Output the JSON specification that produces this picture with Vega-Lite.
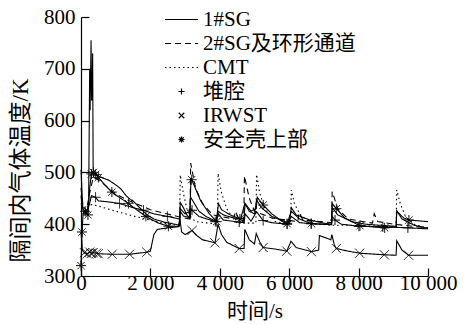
{
  "$schema": "https://vega.github.io/schema/vega-lite/v6.json",
  "width": 347,
  "height": 259,
  "autosize": {"type": "none"},
  "padding": {"left": 81, "top": 17, "right": 41, "bottom": 48},
  "background": "white",
  "config": {
    "view": {"stroke": null},
    "font": "Liberation Serif",
    "axis": {
      "domainColor": "black", "domainWidth": 1.2,
      "tickColor": "black", "tickWidth": 1.2, "tickSize": -8,
      "grid": false,
      "labelFont": "Liberation Serif", "labelFontSize": 21, "labelColor": "black",
      "titleFont": "Liberation Serif, Noto Sans CJK SC", "titleFontSize": 21,
      "titleFontWeight": "normal", "titleColor": "black"
    },
    "legend": {
      "symbolSize": 121, "symbolStrokeWidth": 1.2, "symbolStrokeColor": "black",
      "symbolFillColor": "transparent", "labelFont": "Liberation Serif, Noto Sans CJK SC",
      "labelFontSize": 21, "labelColor": "black", "labelOffset": 11, "rowPadding": 2,
      "padding": 0, "labelLimit": 300
    }
  },
  "datasets": {
    "lines": [
      {"series":"1#SG","t":0,"T":505},{"series":"1#SG","t":30,"T":460},{"series":"1#SG","t":60,"T":425},{"series":"1#SG","t":120,"T":420},{"series":"1#SG","t":180,"T":425},{"series":"1#SG","t":220,"T":440},{"series":"1#SG","t":250,"T":700},{"series":"1#SG","t":262,"T":620},{"series":"1#SG","t":290,"T":755},{"series":"1#SG","t":305,"T":640},{"series":"1#SG","t":322,"T":640},{"series":"1#SG","t":336,"T":730},{"series":"1#SG","t":350,"T":505},{"series":"1#SG","t":450,"T":495},{"series":"1#SG","t":600,"T":490},{"series":"1#SG","t":800,"T":485},{"series":"1#SG","t":1000,"T":476},{"series":"1#SG","t":1150,"T":468},{"series":"1#SG","t":1300,"T":455},{"series":"1#SG","t":1420,"T":448},{"series":"1#SG","t":1500,"T":445},{"series":"1#SG","t":1600,"T":438},{"series":"1#SG","t":1750,"T":428},{"series":"1#SG","t":1900,"T":418},{"series":"1#SG","t":2100,"T":410},{"series":"1#SG","t":2400,"T":404},{"series":"1#SG","t":2700,"T":400},{"series":"1#SG","t":2840,"T":398},{"series":"1#SG","t":2860,"T":442},{"series":"1#SG","t":2950,"T":432},{"series":"1#SG","t":3050,"T":418},{"series":"1#SG","t":3120,"T":412},{"series":"1#SG","t":3160,"T":452},{"series":"1#SG","t":3250,"T":442},{"series":"1#SG","t":3400,"T":425},{"series":"1#SG","t":3600,"T":415},{"series":"1#SG","t":3900,"T":405},{"series":"1#SG","t":3960,"T":440},{"series":"1#SG","t":4050,"T":428},{"series":"1#SG","t":4300,"T":418},{"series":"1#SG","t":4600,"T":410},{"series":"1#SG","t":4720,"T":440},{"series":"1#SG","t":4850,"T":425},{"series":"1#SG","t":5000,"T":420},{"series":"1#SG","t":5060,"T":447},{"series":"1#SG","t":5200,"T":432},{"series":"1#SG","t":5500,"T":415},{"series":"1#SG","t":5800,"T":407},{"series":"1#SG","t":6000,"T":402},{"series":"1#SG","t":6060,"T":432},{"series":"1#SG","t":6200,"T":418},{"series":"1#SG","t":6600,"T":408},{"series":"1#SG","t":7000,"T":402},{"series":"1#SG","t":7220,"T":400},{"series":"1#SG","t":7240,"T":432},{"series":"1#SG","t":7400,"T":418},{"series":"1#SG","t":7800,"T":405},{"series":"1#SG","t":8200,"T":400},{"series":"1#SG","t":8600,"T":398},{"series":"1#SG","t":9080,"T":396},{"series":"1#SG","t":9100,"T":426},{"series":"1#SG","t":9250,"T":410},{"series":"1#SG","t":9600,"T":398},{"series":"1#SG","t":10000,"T":392},

      {"series":"2#SG及环形通道","t":0,"T":470},{"series":"2#SG及环形通道","t":50,"T":440},{"series":"2#SG及环形通道","t":150,"T":425},{"series":"2#SG及环形通道","t":250,"T":460},{"series":"2#SG及环形通道","t":350,"T":490},{"series":"2#SG及环形通道","t":450,"T":488},{"series":"2#SG及环形通道","t":700,"T":475},{"series":"2#SG及环形通道","t":1000,"T":458},{"series":"2#SG及环形通道","t":1400,"T":445},{"series":"2#SG及环形通道","t":2000,"T":428},{"series":"2#SG及环形通道","t":2470,"T":420},{"series":"2#SG及环形通道","t":2840,"T":414},{"series":"2#SG及环形通道","t":3140,"T":410},{"series":"2#SG及环形通道","t":3160,"T":518},{"series":"2#SG及环形通道","t":3300,"T":470},{"series":"2#SG及环形通道","t":3500,"T":440},{"series":"2#SG及环形通道","t":3800,"T":418},{"series":"2#SG及环形通道","t":4400,"T":410},{"series":"2#SG及环形通道","t":4450,"T":425},{"series":"2#SG及环形通道","t":4550,"T":410},{"series":"2#SG及环形通道","t":4690,"T":406},{"series":"2#SG及环形通道","t":4710,"T":493},{"series":"2#SG及环形通道","t":4850,"T":450},{"series":"2#SG及环形通道","t":5000,"T":425},{"series":"2#SG及环形通道","t":5500,"T":412},{"series":"2#SG及环形通道","t":6250,"T":405},{"series":"2#SG及环形通道","t":6280,"T":422},{"series":"2#SG及环形通道","t":6400,"T":408},{"series":"2#SG及环形通道","t":7220,"T":403},{"series":"2#SG及环形通道","t":7240,"T":463},{"series":"2#SG及环形通道","t":7400,"T":430},{"series":"2#SG及环形通道","t":7700,"T":410},{"series":"2#SG及环形通道","t":8400,"T":402},{"series":"2#SG及环形通道","t":8450,"T":420},{"series":"2#SG及环形通道","t":8550,"T":405},{"series":"2#SG及环形通道","t":9000,"T":400},{"series":"2#SG及环形通道","t":10000,"T":393},

      {"series":"CMT","t":0,"T":440},{"series":"CMT","t":100,"T":430},{"series":"CMT","t":300,"T":438},{"series":"CMT","t":500,"T":435},{"series":"CMT","t":1000,"T":425},{"series":"CMT","t":1500,"T":416},{"series":"CMT","t":2000,"T":408},{"series":"CMT","t":2500,"T":400},{"series":"CMT","t":2840,"T":398},{"series":"CMT","t":2860,"T":495},{"series":"CMT","t":2950,"T":460},{"series":"CMT","t":3050,"T":430},{"series":"CMT","t":3150,"T":415},{"series":"CMT","t":3300,"T":405},{"series":"CMT","t":3930,"T":400},{"series":"CMT","t":3950,"T":498},{"series":"CMT","t":4050,"T":460},{"series":"CMT","t":4200,"T":430},{"series":"CMT","t":4400,"T":410},{"series":"CMT","t":4700,"T":402},{"series":"CMT","t":5040,"T":402},{"series":"CMT","t":5060,"T":496},{"series":"CMT","t":5150,"T":460},{"series":"CMT","t":5300,"T":430},{"series":"CMT","t":5600,"T":405},{"series":"CMT","t":6040,"T":400},{"series":"CMT","t":6060,"T":466},{"series":"CMT","t":6150,"T":440},{"series":"CMT","t":6300,"T":420},{"series":"CMT","t":6600,"T":402},{"series":"CMT","t":7200,"T":398},{"series":"CMT","t":7700,"T":398},{"series":"CMT","t":9080,"T":395},{"series":"CMT","t":9100,"T":466},{"series":"CMT","t":9200,"T":440},{"series":"CMT","t":9350,"T":415},{"series":"CMT","t":9600,"T":400},{"series":"CMT","t":10000,"T":392},

      {"series":"堆腔","t":0,"T":455},{"series":"堆腔","t":50,"T":430},{"series":"堆腔","t":150,"T":420},{"series":"堆腔","t":250,"T":440},{"series":"堆腔","t":300,"T":455},{"series":"堆腔","t":420,"T":452},{"series":"堆腔","t":500,"T":445},{"series":"堆腔","t":800,"T":443},{"series":"堆腔","t":1110,"T":440},{"series":"堆腔","t":1500,"T":432},{"series":"堆腔","t":1800,"T":427},{"series":"堆腔","t":2100,"T":420},{"series":"堆腔","t":2490,"T":415},{"series":"堆腔","t":2840,"T":410},{"series":"堆腔","t":2860,"T":425},{"series":"堆腔","t":2950,"T":416},{"series":"堆腔","t":3150,"T":412},{"series":"堆腔","t":3170,"T":430},{"series":"堆腔","t":3200,"T":427},{"series":"堆腔","t":3400,"T":415},{"series":"堆腔","t":3870,"T":405},{"series":"堆腔","t":3960,"T":420},{"series":"堆腔","t":4100,"T":408},{"series":"堆腔","t":4560,"T":404},{"series":"堆腔","t":4700,"T":403},{"series":"堆腔","t":4730,"T":420},{"series":"堆腔","t":4900,"T":406},{"series":"堆腔","t":5060,"T":424},{"series":"堆腔","t":5250,"T":407},{"series":"堆腔","t":5500,"T":403},{"series":"堆腔","t":5940,"T":400},{"series":"堆腔","t":6060,"T":415},{"series":"堆腔","t":6300,"T":403},{"series":"堆腔","t":6630,"T":401},{"series":"堆腔","t":7220,"T":399},{"series":"堆腔","t":7240,"T":415},{"series":"堆腔","t":7320,"T":408},{"series":"堆腔","t":7500,"T":400},{"series":"堆腔","t":8010,"T":396},{"series":"堆腔","t":8700,"T":395},{"series":"堆腔","t":9420,"T":393},{"series":"堆腔","t":10000,"T":391},

      {"series":"IRWST","t":0,"T":385},{"series":"IRWST","t":40,"T":350},{"series":"IRWST","t":100,"T":345},{"series":"IRWST","t":180,"T":343},{"series":"IRWST","t":250,"T":346},{"series":"IRWST","t":300,"T":344},{"series":"IRWST","t":350,"T":345},{"series":"IRWST","t":450,"T":344},{"series":"IRWST","t":500,"T":343},{"series":"IRWST","t":900,"T":342},{"series":"IRWST","t":1400,"T":342},{"series":"IRWST","t":1900,"T":346},{"series":"IRWST","t":2000,"T":348},{"series":"IRWST","t":2100,"T":380},{"series":"IRWST","t":2200,"T":390},{"series":"IRWST","t":2500,"T":393},{"series":"IRWST","t":2800,"T":395},{"series":"IRWST","t":2850,"T":410},{"series":"IRWST","t":2900,"T":385},{"series":"IRWST","t":3000,"T":380},{"series":"IRWST","t":3200,"T":388},{"series":"IRWST","t":3300,"T":380},{"series":"IRWST","t":3500,"T":370},{"series":"IRWST","t":3860,"T":364},{"series":"IRWST","t":3950,"T":400},{"series":"IRWST","t":4050,"T":380},{"series":"IRWST","t":4200,"T":365},{"series":"IRWST","t":4560,"T":353},{"series":"IRWST","t":4700,"T":353},{"series":"IRWST","t":4720,"T":390},{"series":"IRWST","t":4850,"T":370},{"series":"IRWST","t":5000,"T":362},{"series":"IRWST","t":5050,"T":382},{"series":"IRWST","t":5150,"T":366},{"series":"IRWST","t":5250,"T":355},{"series":"IRWST","t":5600,"T":352},{"series":"IRWST","t":5930,"T":348},{"series":"IRWST","t":6050,"T":367},{"series":"IRWST","t":6200,"T":355},{"series":"IRWST","t":6640,"T":347},{"series":"IRWST","t":6850,"T":350},{"series":"IRWST","t":6870,"T":378},{"series":"IRWST","t":7000,"T":375},{"series":"IRWST","t":7200,"T":370},{"series":"IRWST","t":7230,"T":380},{"series":"IRWST","t":7300,"T":360},{"series":"IRWST","t":7360,"T":353},{"series":"IRWST","t":7700,"T":348},{"series":"IRWST","t":8030,"T":344},{"series":"IRWST","t":8500,"T":342},{"series":"IRWST","t":8740,"T":341},{"series":"IRWST","t":9080,"T":340},{"series":"IRWST","t":9100,"T":368},{"series":"IRWST","t":9250,"T":350},{"series":"IRWST","t":9440,"T":340},{"series":"IRWST","t":10000,"T":340},

      {"series":"安全壳上部","t":0,"T":320},{"series":"安全壳上部","t":30,"T":385},{"series":"安全壳上部","t":60,"T":420},{"series":"安全壳上部","t":120,"T":425},{"series":"安全壳上部","t":200,"T":418},{"series":"安全壳上部","t":250,"T":470},{"series":"安全壳上部","t":300,"T":497},{"series":"安全壳上部","t":360,"T":500},{"series":"安全壳上部","t":420,"T":496},{"series":"安全壳上部","t":500,"T":490},{"series":"安全壳上部","t":700,"T":475},{"series":"安全壳上部","t":890,"T":462},{"series":"安全壳上部","t":1100,"T":452},{"series":"安全壳上部","t":1370,"T":440},{"series":"安全壳上部","t":1600,"T":428},{"series":"安全壳上部","t":1870,"T":415},{"series":"安全壳上部","t":2200,"T":403},{"series":"安全壳上部","t":2520,"T":396},{"series":"安全壳上部","t":2840,"T":396},{"series":"安全壳上部","t":2860,"T":430},{"series":"安全壳上部","t":3000,"T":420},{"series":"安全壳上部","t":3140,"T":425},{"series":"安全壳上部","t":3170,"T":490},{"series":"安全壳上部","t":3190,"T":486},{"series":"安全壳上部","t":3450,"T":445},{"series":"安全壳上部","t":3700,"T":420},{"series":"安全壳上部","t":3910,"T":405},{"series":"安全壳上部","t":3950,"T":425},{"series":"安全壳上部","t":4100,"T":418},{"series":"安全壳上部","t":4400,"T":412},{"series":"安全壳上部","t":4580,"T":410},{"series":"安全壳上部","t":4700,"T":412},{"series":"安全壳上部","t":4730,"T":440},{"series":"安全壳上部","t":4900,"T":425},{"series":"安全壳上部","t":5050,"T":430},{"series":"安全壳上部","t":5080,"T":452},{"series":"安全壳上部","t":5250,"T":437},{"series":"安全壳上部","t":5500,"T":420},{"series":"安全壳上部","t":5800,"T":405},{"series":"安全壳上部","t":5940,"T":401},{"series":"安全壳上部","t":6060,"T":425},{"series":"安全壳上部","t":6300,"T":410},{"series":"安全壳上部","t":6640,"T":401},{"series":"安全壳上部","t":7000,"T":400},{"series":"安全壳上部","t":7220,"T":400},{"series":"安全壳上部","t":7240,"T":440},{"series":"安全壳上部","t":7360,"T":430},{"series":"安全壳上部","t":7600,"T":412},{"series":"安全壳上部","t":8040,"T":397},{"series":"安全壳上部","t":8400,"T":395},{"series":"安全壳上部","t":8750,"T":393},{"series":"安全壳上部","t":9080,"T":395},{"series":"安全壳上部","t":9100,"T":425},{"series":"安全壳上部","t":9300,"T":412},{"series":"安全壳上部","t":9450,"T":408},{"series":"安全壳上部","t":10000,"T":405}
    ],
    "markers": [
      {"series":"堆腔","t":420,"T":452},{"series":"堆腔","t":1110,"T":440},{"series":"堆腔","t":1800,"T":427},{"series":"堆腔","t":2490,"T":415},{"series":"堆腔","t":3200,"T":427},{"series":"堆腔","t":3870,"T":405},{"series":"堆腔","t":4560,"T":404},{"series":"堆腔","t":5250,"T":407},{"series":"堆腔","t":5940,"T":400},{"series":"堆腔","t":6630,"T":401},{"series":"堆腔","t":7320,"T":408},{"series":"堆腔","t":8010,"T":396},{"series":"堆腔","t":8700,"T":395},{"series":"堆腔","t":9420,"T":393},
      {"series":"IRWST","t":100,"T":345},{"series":"IRWST","t":180,"T":343},{"series":"IRWST","t":250,"T":346},{"series":"IRWST","t":300,"T":344},{"series":"IRWST","t":350,"T":345},{"series":"IRWST","t":450,"T":344},{"series":"IRWST","t":500,"T":343},{"series":"IRWST","t":900,"T":342},{"series":"IRWST","t":1400,"T":342},{"series":"IRWST","t":1900,"T":346},{"series":"IRWST","t":3200,"T":388},{"series":"IRWST","t":3860,"T":364},{"series":"IRWST","t":4560,"T":353},{"series":"IRWST","t":5250,"T":355},{"series":"IRWST","t":5930,"T":348},{"series":"IRWST","t":6640,"T":347},{"series":"IRWST","t":7360,"T":353},{"series":"IRWST","t":8030,"T":344},{"series":"IRWST","t":8740,"T":341},{"series":"IRWST","t":9440,"T":340},
      {"series":"安全壳上部","t":0,"T":320},{"series":"安全壳上部","t":30,"T":385},{"series":"安全壳上部","t":120,"T":425},{"series":"安全壳上部","t":200,"T":418},{"series":"安全壳上部","t":300,"T":497},{"series":"安全壳上部","t":360,"T":500},{"series":"安全壳上部","t":420,"T":496},{"series":"安全壳上部","t":500,"T":490},{"series":"安全壳上部","t":890,"T":462},{"series":"安全壳上部","t":1370,"T":440},{"series":"安全壳上部","t":1870,"T":415},{"series":"安全壳上部","t":2520,"T":396},{"series":"安全壳上部","t":3190,"T":486},{"series":"安全壳上部","t":3910,"T":405},{"series":"安全壳上部","t":4580,"T":410},{"series":"安全壳上部","t":5250,"T":437},{"series":"安全壳上部","t":5940,"T":401},{"series":"安全壳上部","t":6640,"T":401},{"series":"安全壳上部","t":7360,"T":430},{"series":"安全壳上部","t":8040,"T":397},{"series":"安全壳上部","t":8750,"T":393},{"series":"安全壳上部","t":9450,"T":408}
    ]
  },
  "encoding": {
    "x": {
      "field": "t", "type": "quantitative",
      "scale": {"domain": [0, 10000], "nice": false},
      "axis": {
        "values": [0, 2000, 4000, 6000, 8000, 10000],
        "labelExpr": "replace(format(datum.value, ','), ',', ' ')",
        "labelPadding": 4, "labelFlush": false, "labelOverlap": false,
        "title": "时间/s", "titlePadding": 7
      }
    },
    "y": {
      "field": "T", "type": "quantitative",
      "scale": {"domain": [300, 800], "nice": false},
      "axis": {
        "values": [300, 400, 500, 600, 700, 800],
        "labelPadding": 14, "labelFlush": false, "labelOverlap": false,
        "title": "隔间内气体温度/K", "titleFontSize": 23,
        "titleX": -61, "titleY": 153, "titleAngle": -90,
        "titleAlign": "center", "titleBaseline": "middle"
      }
    }
  },
  "layer": [
    {
      "data": {"name": "lines"},
      "mark": {"type": "line", "color": "black", "strokeWidth": 1.1},
      "encoding": {
        "strokeDash": {
          "field": "series", "type": "nominal",
          "scale": {
            "domain": ["1#SG", "2#SG及环形通道", "CMT", "堆腔", "IRWST", "安全壳上部"],
            "range": [[1, 0], [6, 4], [1.5, 3], [1, 0], [1, 0], [1, 0]]
          },
          "legend": {"title": null, "orient": "none", "legendX": 90, "legendY": -8}
        }
      }
    },
    {
      "data": {"name": "markers"},
      "mark": {"type": "point", "filled": false, "color": "black", "size": 330, "strokeWidth": 1, "opacity": 1},
      "encoding": {
        "shape": {
          "field": "series", "type": "nominal",
          "scale": {
            "domain": ["1#SG", "2#SG及环形通道", "CMT", "堆腔", "IRWST", "安全壳上部"],
            "range": [
              "M-3,0H3", "M-3,0H3", "M-3,0H3",
              "M-0.55,0H0.55M0,-0.55V0.55",
              "M-0.5,-0.5L0.5,0.5M-0.5,0.5L0.5,-0.5",
              "M-0.55,0H0.55M0,-0.55V0.55M-0.4,-0.4L0.4,0.4M-0.4,0.4L0.4,-0.4"
            ]
          },
          "legend": {"title": null, "orient": "none", "legendX": 90, "legendY": -8}
        },
        "strokeDash": {
          "field": "series", "type": "nominal",
          "legend": {"title": null, "orient": "none", "legendX": 90, "legendY": -8}
        }
      }
    }
  ]
}
